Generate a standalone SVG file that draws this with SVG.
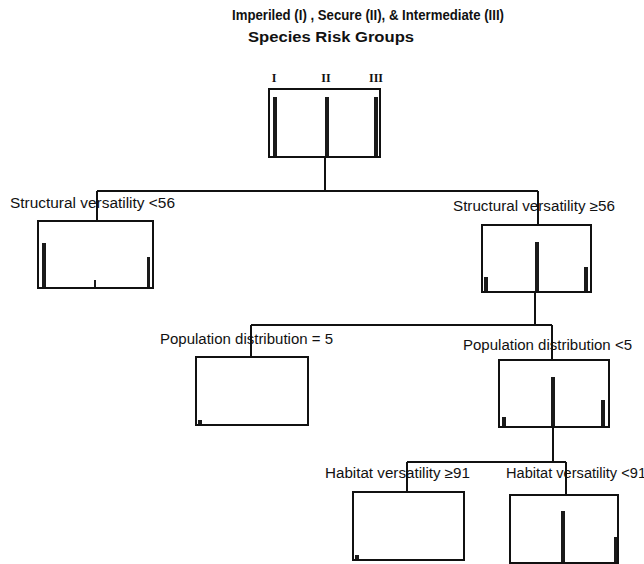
<svg xmlns="http://www.w3.org/2000/svg" width="644" height="564" viewBox="0 0 644 564">
<style>
.box{fill:#fff;stroke:#111;stroke-width:2}
.bar{fill:#1a1a1a}
.lbl{font-family:"Liberation Sans",Arial,sans-serif;font-size:14px;fill:#111}
.ttl{font-family:"Liberation Sans",Arial,sans-serif;font-size:14px;font-weight:bold;fill:#111}
.grp{font-family:"Liberation Serif","Times New Roman",serif;font-size:12px;font-weight:bold;fill:#111;text-anchor:middle}
.conn{fill:none;stroke:#111;stroke-width:2}
</style>
<rect width="644" height="564" fill="#fff"/>
<g id="title">
<text class="ttl" x="232" y="20" textLength="272" lengthAdjust="spacingAndGlyphs">Imperiled (I) , Secure (II), &amp; Intermediate (III)</text>
<text class="ttl" x="248" y="42" textLength="166" lengthAdjust="spacingAndGlyphs">Species Risk Groups</text>
</g>
<g id="connectors">
<path class="conn" d="M325 158V191M97 191H538M97 191V221M538 191V225"/>
<path class="conn" d="M535 292V325M251 325H552M251 325V357M552 325V360"/>
<path class="conn" d="M553 426V462M407 462H566M407 462V492M566 462V495"/>
</g>
<g id="root">
<text class="grp" x="274" y="82">I</text>
<text class="grp" x="326" y="82">II</text>
<text class="grp" x="376" y="82">III</text>
<rect class="box" x="269" y="89" width="111" height="68"/>
<rect class="bar" x="273" y="97" width="4" height="59"/>
<rect class="bar" x="325" y="97" width="4" height="59"/>
<rect class="bar" x="374" y="97" width="4" height="59"/>
</g>
<g id="sv-lt56">
<text class="lbl" x="10" y="208" textLength="165" lengthAdjust="spacingAndGlyphs">Structural versatility &lt;56</text>
<rect class="box" x="38" y="221" width="115" height="67"/>
<rect class="bar" x="42" y="243" width="4" height="44"/>
<rect class="bar" x="94" y="280" width="2" height="7"/>
<rect class="bar" x="147" y="257" width="3" height="30"/>
</g>
<g id="sv-ge56">
<text class="lbl" x="453" y="211" textLength="162" lengthAdjust="spacingAndGlyphs">Structural versatility ≥56</text>
<rect class="box" x="482" y="225" width="109" height="67"/>
<rect class="bar" x="484" y="277" width="4" height="14"/>
<rect class="bar" x="535" y="242" width="4" height="49"/>
<rect class="bar" x="584" y="267" width="4" height="24"/>
</g>
<g id="pd-eq5">
<text class="lbl" x="160" y="344" textLength="173" lengthAdjust="spacingAndGlyphs">Population distribution = 5</text>
<rect class="box" x="196" y="357" width="112" height="68"/>
<rect class="bar" x="198" y="420" width="4" height="4"/>
</g>
<g id="pd-lt5">
<text class="lbl" x="463" y="350" textLength="169" lengthAdjust="spacingAndGlyphs">Population distribution &lt;5</text>
<rect class="box" x="499" y="360" width="110" height="67"/>
<rect class="bar" x="502" y="417" width="4" height="9"/>
<rect class="bar" x="551" y="377" width="4" height="49"/>
<rect class="bar" x="601" y="400" width="4" height="26"/>
</g>
<g id="hv-ge91">
<text class="lbl" x="325" y="478" textLength="145" lengthAdjust="spacingAndGlyphs">Habitat versatility ≥91</text>
<rect class="box" x="353" y="492" width="111" height="68"/>
<rect class="bar" x="355" y="555" width="4" height="4"/>
</g>
<g id="hv-lt91">
<text class="lbl" x="506" y="478" textLength="140" lengthAdjust="spacingAndGlyphs">Habitat versatility &lt;91</text>
<rect class="box" x="510" y="495" width="108" height="68"/>
<rect class="bar" x="561" y="511" width="4" height="51"/>
<rect class="bar" x="614" y="537" width="3" height="25"/>
</g>
</svg>
